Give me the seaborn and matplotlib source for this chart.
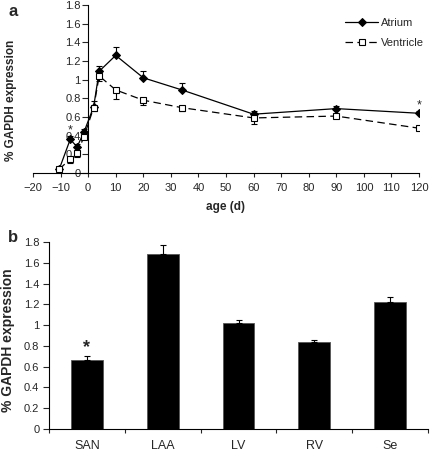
import numpy as np
import pandas as pd
import matplotlib
matplotlib.use("Agg")
import matplotlib.pyplot as plt
import seaborn as sns

# panel a - time course
ages = [-10.5, -6.5, -4, -1.5, 2, 4, 10, 20, 34, 60, 90, 120]
atrium = [0.04, 0.36, 0.28, 0.44, 0.71, 1.09, 1.26, 1.02, 0.89, 0.63, 0.69, 0.64]
atrium_err = [0.02, 0.04, 0.03, 0.03, 0.06, 0.06, 0.09, 0.07, 0.07, 0.03, 0.03, 0.02]
ventricle = [0.04, 0.15, 0.21, 0.39, 0.70, 1.04, 0.89, 0.78, 0.70, 0.59, 0.61, 0.48]
ventricle_err = [0.02, 0.04, 0.04, 0.03, 0.04, 0.05, 0.10, 0.05, 0.04, 0.07, 0.02, 0.02]
star_ages = [-6.5, 120]
star_vals = [0.46, 0.72]

# panel b - regions
regions = ['SAN', 'LAA', 'LV', 'RV', 'Se']
expr = [0.66, 1.68, 1.02, 0.84, 1.22]
expr_err = [0.04, 0.09, 0.03, 0.02, 0.05]

sns.set_style("white")
plt.rcParams['font.family'] = ['Liberation Sans', 'DejaVu Sans']

df_a = pd.DataFrame({'age': ages, 'Atrium': atrium, 'Ventricle': ventricle})
df_b = pd.DataFrame({'region': regions, 'expr': expr})

fig = plt.figure(figsize=(4.3, 4.53), dpi=100)
W, H = 430, 453
ylabs = ['0', '0.2', '0.4', '0.6', '0.8', '1', '1.2', '1.4', '1.6', '1.8']

# ---- panel a
ax1 = fig.add_axes([33 / W, 1 - 173 / H, 386 / W, 168 / H])
ax1.errorbar(ages, atrium, yerr=[np.zeros(len(ages)), atrium_err], fmt='none',
             ecolor='black', elinewidth=0.8, capsize=2.5, capthick=0.8)
ax1.errorbar(ages, ventricle, yerr=[ventricle_err, np.zeros(len(ages))], fmt='none',
             ecolor='black', elinewidth=0.8, capsize=2.5, capthick=0.8)
sns.lineplot(data=df_a, x='age', y='Atrium', ax=ax1, color='black', lw=0.9,
             marker='D', markersize=4.5, markerfacecolor='black',
             markeredgecolor='black', label='Atrium')
sns.lineplot(data=df_a, x='age', y='Ventricle', ax=ax1, color='black', lw=0.9,
             linestyle=(0, (6, 3.5)), marker='s', markersize=5,
             markerfacecolor='white', markeredgecolor='black',
             markeredgewidth=0.8, label='Ventricle')
for xa, ya in zip(star_ages, star_vals):
    ax1.text(xa, ya, '*', ha='center', va='center', fontsize=9)

ax1.set_xlim(-20, 120)
ax1.set_ylim(0, 1.8)
ax1.set_xticks(range(-20, 121, 10))
ax1.set_yticks(np.arange(0, 1.81, 0.2))
ax1.set_yticklabels(ylabs)
ax1.spines['left'].set_position(('data', 0))
ax1.spines['top'].set_visible(False)
ax1.spines['right'].set_visible(False)
for s in ['left', 'bottom']:
    ax1.spines[s].set_color('black')
    ax1.spines[s].set_linewidth(0.8)
ax1.tick_params(axis='x', direction='out', length=3, width=0.8, pad=4, labelsize=8, bottom=True)
ax1.tick_params(axis='y', direction='out', length=4, width=0.8, pad=1.5, labelsize=8, left=True)
ax1.set_xlabel('age (d)', fontsize=8.5, fontweight='bold', labelpad=6)
ax1.set_ylabel('% GAPDH expression', fontsize=8.5, fontweight='bold')
ax1.yaxis.set_label_coords(-0.042, 0.43)
ax1.legend(frameon=False, loc='center left', bbox_to_anchor=(345 / W, 1 - 33 / H),
           bbox_transform=fig.transFigure, fontsize=8, handlelength=3,
           handletextpad=0.2, labelspacing=0.85, borderpad=0, borderaxespad=0)

# ---- panel b
ax2 = fig.add_axes([49 / W, 1 - 429 / H, 379 / W, 187 / H])
sns.barplot(data=df_b, x='region', y='expr', ax=ax2, color='black',
            edgecolor='#555555', linewidth=0.6, width=0.42, errorbar=None,
            saturation=1)
ax2.errorbar(range(len(regions)), expr, yerr=[np.zeros(len(regions)), expr_err],
             fmt='none', ecolor='black', elinewidth=0.8, capsize=2.5, capthick=0.8)
ax2.text(0, expr[0] + expr_err[0] + 0.08, '*', ha='center', va='center',
         fontsize=13, fontweight='bold')
ax2.set_xlim(-0.5, 4.5)
ax2.set_ylim(0, 1.8)
ax2.set_yticks(np.arange(0, 1.81, 0.2))
ax2.set_yticklabels(ylabs)
ax2.set_xticks(range(len(regions)))
ax2.set_xticklabels(regions)
ax2.set_xticks(np.arange(-0.5, 4.6, 1), minor=True)
ax2.tick_params(axis='x', which='major', length=0, pad=8, labelsize=9)
ax2.tick_params(axis='x', which='minor', direction='out', length=3, width=0.8, bottom=True)
ax2.tick_params(axis='y', direction='out', length=4, width=0.8, pad=3, labelsize=8, left=True)
ax2.spines['top'].set_visible(False)
ax2.spines['right'].set_visible(False)
for s in ['left', 'bottom']:
    ax2.spines[s].set_color('black')
    ax2.spines[s].set_linewidth(0.8)
ax2.set_xlabel('')
ax2.set_ylabel('% GAPDH expression', fontsize=10, fontweight='bold')
ax2.yaxis.set_label_coords(-0.091, 0.476)

fig.text(13 / W, 1 - 12 / H, 'a', fontsize=12, fontweight='bold', ha='center', va='center')
fig.text(13 / W, 1 - 238 / H, 'b', fontsize=12, fontweight='bold', ha='center', va='center')

fig.savefig('out.png', dpi=100)
